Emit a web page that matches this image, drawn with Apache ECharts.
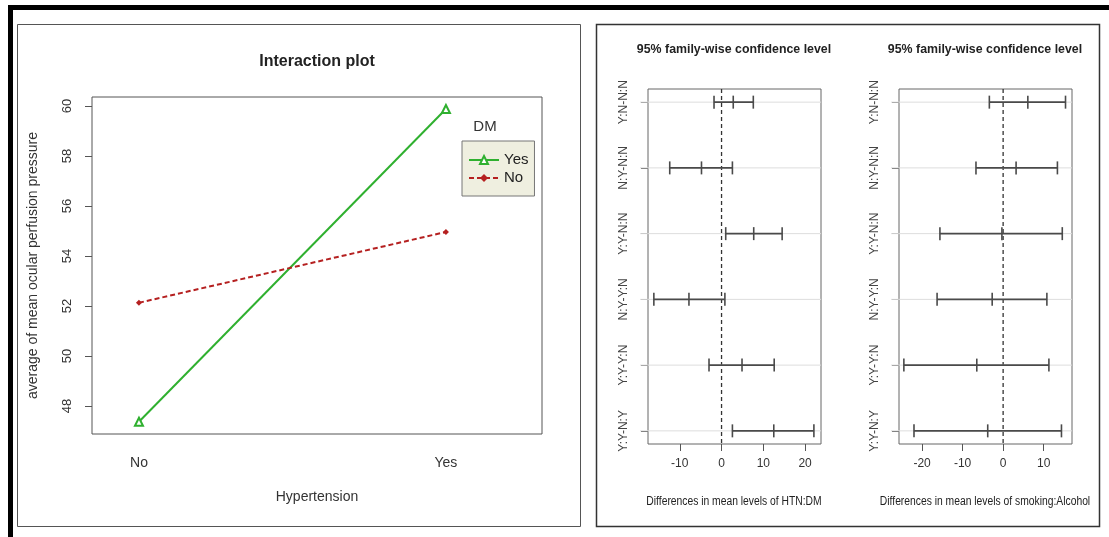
<!DOCTYPE html>
<html><head><meta charset="utf-8">
<script src="https://cdn.jsdelivr.net/npm/echarts@6/dist/echarts.min.js"></script>
<style>html,body{margin:0;padding:0;background:#fff}#c{width:1109px;height:537px}</style>
</head><body><div id="c"></div>
<script>
// ---- data ----
const htnLevels = ['No', 'Yes'];
const htnPos = [1, 2];
const dmYes = [47.37, 59.88];
const dmNo = [52.13, 54.96];
const interYTicks = [48, 50, 52, 54, 56, 58, 60];

const comparisons = ['Y:N-N:N', 'N:Y-N:N', 'Y:Y-N:N', 'N:Y-Y:N', 'Y:Y-Y:N', 'Y:Y-N:Y'];
const htnDmLwr  = [-1.8, -12.4, 1.0, -16.2, -3.0, 2.6];
const htnDmDiff = [2.8, -4.8, 7.7, -7.8, 4.9, 12.5];
const htnDmUpr  = [7.6, 2.6, 14.5, 0.8, 12.6, 22.1];
const smkAlcLwr  = [-3.4, -6.7, -15.6, -16.3, -24.5, -22.0];
const smkAlcDiff = [6.1, 3.2, -0.3, -2.7, -6.5, -3.8];
const smkAlcUpr  = [15.4, 13.4, 14.6, 10.8, 11.3, 14.4];
const htnDmTicks = [-10, 0, 10, 20];
const smkAlcTicks = [-20, -10, 0, 10];
const rowValues = [6, 5, 4, 3, 2, 1];
const tukeyTitle = '95% family-wise confidence level';
const htnDmXName = 'Differences in mean levels of HTN:DM';
const smkAlcXName = 'Differences in mean levels of smoking:Alcohol';

// ---- styles ----
const FONT = "'Liberation Sans', Arial, sans-serif";
const GREEN = '#2fb02f', RED = '#b52020', BAR = '#4a4a4a';

function tukeyData(lwr, diff, upr) {
  return rowValues.map((r, i) => [lwr[i], r, diff[i], upr[i]]);
}
function renderRowLine(params, api) {
  const cs = params.coordSys;
  const p = api.coord([0, api.value(1)]);
  const children = [
    { type: 'line', shape: { x1: cs.x - 8, y1: p[1], x2: cs.x + cs.width, y2: p[1] }, style: { stroke: '#dddddd', lineWidth: 1 } }
  ];
  if (params.dataIndex === 0) {
    children.push({ type: 'line', shape: { x1: p[0], y1: cs.y, x2: p[0], y2: cs.y + cs.height },
      style: { stroke: '#333', lineWidth: 1.3, lineDash: [4, 3] } });
  }
  return { type: 'group', children: children };
}
function renderBars(params, api) {
  const y = api.value(1);
  const pL = api.coord([api.value(0), y]);
  const pM = api.coord([api.value(2), y]);
  const pU = api.coord([api.value(3), y]);
  const h = 6.5;
  const st = { stroke: BAR, lineWidth: 1.6 };
  const cap = p => ({ type: 'line', shape: { x1: p[0], y1: p[1] - h, x2: p[0], y2: p[1] + h }, style: st });
  return { type: 'group', children: [
    { type: 'line', shape: { x1: pL[0], y1: pL[1], x2: pU[0], y2: pU[1] }, style: st },
    cap(pL), cap(pM), cap(pU)
  ]};
}
function tukeyX(idx, min, max, ticks) {
  return {
    gridIndex: idx, type: 'value', min: min, max: max,
    axisLine: { show: false, onZero: false }, splitLine: { show: false },
    axisTick: { show: true, customValues: ticks, length: 7, inside: false, lineStyle: { color: '#555' } },
    axisLabel: { customValues: ticks, fontSize: 12, color: '#333', margin: 14 }
  };
}
function tukeyY(idx) {
  return {
    gridIndex: idx, type: 'value', min: 0.8, max: 6.2,
    axisLine: { show: false, onZero: false }, splitLine: { show: false },
    axisTick: { show: true, customValues: rowValues, length: 7, lineStyle: { color: '#555' } },
    axisLabel: { customValues: rowValues, rotate: 90, margin: 18, fontSize: 12, color: '#444',
      formatter: v => comparisons[rowValues.indexOf(Math.round(v))] }
  };
}
function label(text, x, y, font, sx) {
  return { type: 'text', x: x, y: y, scaleX: sx || 1,
    style: { text: text, font: font, fill: '#222', textAlign: 'center', textVerticalAlign: 'middle' } };
}
function tukeySeries(axisIdx, lwr, diff, upr) {
  const data = tukeyData(lwr, diff, upr);
  return [
    { type: 'custom', xAxisIndex: axisIdx, yAxisIndex: axisIdx, renderItem: renderRowLine, data: data, encode: { x: [0, 2, 3], y: 1 }, z: 1, silent: true },
    { type: 'custom', xAxisIndex: axisIdx, yAxisIndex: axisIdx, renderItem: renderBars, data: data, encode: { x: [0, 2, 3], y: 1 }, z: 3, silent: true }
  ];
}

const chart = echarts.init(document.getElementById('c'), null, { renderer: 'canvas' });
chart.setOption({
  backgroundColor: '#fff',
  animation: false,
  textStyle: { fontFamily: FONT },
  grid: [
    { left: 92, top: 97, width: 450, height: 337, show: true, borderColor: '#555', borderWidth: 1, backgroundColor: 'transparent' },
    { left: 648, top: 89, width: 173, height: 355, show: true, borderColor: '#666', borderWidth: 1 },
    { left: 899, top: 89, width: 173, height: 355, show: true, borderColor: '#666', borderWidth: 1 }
  ],
  xAxis: [
    { gridIndex: 0, type: 'value', min: 0.847, max: 2.313,
      axisLine: { show: false, onZero: false }, axisTick: { show: false }, splitLine: { show: false },
      axisLabel: { customValues: htnPos, formatter: v => htnLevels[htnPos.indexOf(Math.round(v))], fontSize: 14, color: '#333', margin: 22 },
      name: 'Hypertension', nameLocation: 'middle', nameGap: 56, nameTextStyle: { fontSize: 14, color: '#333' } },
    tukeyX(1, -17.6, 23.8, htnDmTicks),
    tukeyX(2, -25.7, 17.0, smkAlcTicks)
  ],
  yAxis: [
    { gridIndex: 0, type: 'value', min: 46.88, max: 60.36,
      axisLine: { show: false, onZero: false }, splitLine: { show: false },
      axisTick: { show: true, customValues: interYTicks, length: 7, lineStyle: { color: '#555' } },
      axisLabel: { customValues: interYTicks, rotate: 90, margin: 18, fontSize: 13, color: '#333' },
      name: 'average of mean ocular perfusion pressure', nameLocation: 'middle', nameGap: 52,
      nameTextStyle: { fontSize: 14, color: '#333' } },
    tukeyY(1), tukeyY(2)
  ],
  legend: {
    left: 462, top: 141, orient: 'vertical', data: ['Yes', 'No'],
    backgroundColor: '#efefe0', borderColor: '#777', borderWidth: 1, borderRadius: 0,
    padding: [11, 6, 10, 6], itemWidth: 30, itemHeight: 10, itemGap: 2,
    textStyle: { fontSize: 15, color: '#222', lineHeight: 16 }
  },
  graphic: [
    { type: 'rect', shape: { x: 8, y: 5, width: 1101, height: 5 }, style: { fill: '#000' } },
    { type: 'rect', shape: { x: 8, y: 5, width: 5, height: 532 }, style: { fill: '#000' } },
    { type: 'rect', shape: { x: 17.5, y: 24.5, width: 563, height: 502 }, style: { fill: 'none', stroke: '#555', lineWidth: 1 } },
    { type: 'rect', shape: { x: 596.5, y: 24.5, width: 503, height: 502 }, style: { fill: 'none', stroke: '#333', lineWidth: 1.5 } },
    label('Interaction plot', 317, 62, "bold 16px 'Liberation Sans', Arial"),
    { type: 'text', x: 485, y: 127, style: { text: 'DM', font: "15px 'Liberation Sans', Arial", fill: '#333', textAlign: 'center', textVerticalAlign: 'middle' } },
    label(tukeyTitle, 734, 49, "bold 13px 'Liberation Sans', Arial", 0.95),
    label(tukeyTitle, 985, 49, "bold 13px 'Liberation Sans', Arial", 0.95),
    label(htnDmXName, 734, 502, "12px 'Liberation Sans', Arial", 0.86),
    label(smkAlcXName, 985, 502, "12px 'Liberation Sans', Arial", 0.86)
  ],
  series: [
    { name: 'Yes', type: 'line', xAxisIndex: 0, yAxisIndex: 0,
      data: htnPos.map((x, i) => [x, dmYes[i]]),
      symbol: 'emptyTriangle', symbolSize: 8,
      lineStyle: { color: GREEN, width: 2 }, itemStyle: { color: GREEN, borderWidth: 1.5 } },
    { name: 'No', type: 'line', xAxisIndex: 0, yAxisIndex: 0,
      data: htnPos.map((x, i) => [x, dmNo[i]]),
      symbol: 'diamond', symbolSize: 6,
      lineStyle: { color: RED, width: 2, type: [5, 3] }, itemStyle: { color: RED } }
  ].concat(
    tukeySeries(1, htnDmLwr, htnDmDiff, htnDmUpr),
    tukeySeries(2, smkAlcLwr, smkAlcDiff, smkAlcUpr)
  )
});
</script></body></html>
